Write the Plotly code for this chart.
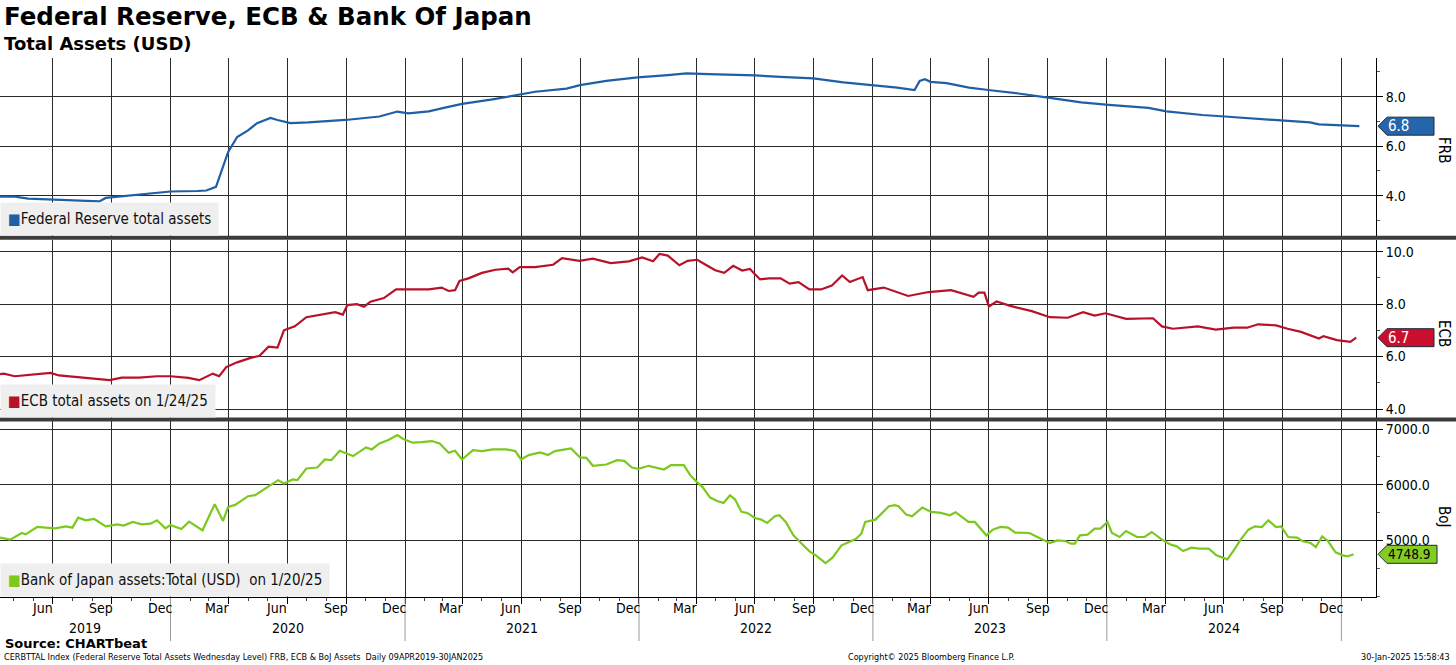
import plotly.graph_objects as go
import pandas as pd

# ---------------- data ----------------
frb_dates = ["2019-04-10","2019-05-03","2019-05-24","2019-07-03","2019-08-29","2019-09-12","2019-09-22",
             "2019-10-24","2019-11-06","2020-01-01","2020-02-12","2020-02-26","2020-03-12","2020-03-21",
             "2020-03-31","2020-04-14","2020-05-01","2020-05-15","2020-06-05","2020-06-16","2020-07-06",
             "2020-08-03","2020-09-30","2020-11-22","2020-12-20","2021-01-06","2021-02-07","2021-03-06",
             "2021-03-31","2021-05-15","2021-06-30","2021-07-23","2021-09-10","2021-10-01","2021-11-11",
             "2021-12-30","2022-02-15","2022-03-16","2022-04-20","2022-07-01","2022-08-10","2022-09-30",
             "2022-11-16","2023-01-04","2023-02-08","2023-03-07","2023-03-15","2023-03-23","2023-04-01",
             "2023-04-26","2023-05-31","2023-06-30","2023-08-16","2023-10-04","2023-11-22","2024-01-04",
             "2024-03-06","2024-04-03","2024-05-29","2024-07-03","2024-08-28","2024-09-30","2024-11-13",
             "2024-11-27","2025-01-01","2025-01-29"]
frb_vals = [3.96,3.96,3.88,3.84,3.77,3.77,3.91,
            3.99,4.05,4.17,4.19,4.21,4.36,5.03,
            5.77,6.37,6.64,6.93,7.14,7.06,6.93,
            6.96,7.06,7.20,7.40,7.33,7.41,7.57,
            7.71,7.88,8.08,8.20,8.33,8.47,8.64,
            8.78,8.87,8.94,8.91,8.86,8.80,8.74,
            8.58,8.47,8.37,8.27,8.64,8.71,8.60,
            8.55,8.37,8.27,8.13,7.95,7.77,7.67,
            7.55,7.41,7.26,7.20,7.10,7.04,6.96,
            6.88,6.84,6.81]

ecb_dates = ["2019-04-10","2019-04-16","2019-05-03","2019-05-24","2019-06-07","2019-06-28","2019-07-11",
             "2019-08-01","2019-08-29","2019-09-28","2019-10-17","2019-11-13","2019-12-11","2020-01-01",
             "2020-01-29","2020-02-15","2020-03-07","2020-03-17","2020-03-28","2020-04-14","2020-05-05",
             "2020-05-19","2020-06-02","2020-06-16","2020-06-26","2020-07-13","2020-07-31","2020-08-24",
             "2020-09-14","2020-09-26","2020-10-03","2020-10-18","2020-10-29","2020-11-08","2020-11-29",
             "2020-12-18","2021-01-10","2021-02-07","2021-02-27","2021-03-10","2021-03-20","2021-03-27",
             "2021-04-10","2021-05-01","2021-05-22","2021-06-11","2021-06-18","2021-06-29","2021-07-23",
             "2021-08-20","2021-09-03","2021-09-30","2021-10-21","2021-11-18","2021-12-16","2022-01-06",
             "2022-01-23","2022-02-02","2022-02-15","2022-03-05","2022-03-18","2022-04-02","2022-04-13",
             "2022-04-30","2022-05-14","2022-05-28","2022-06-11","2022-06-23","2022-07-09","2022-07-23",
             "2022-08-10","2022-08-24","2022-09-07","2022-09-24","2022-10-12","2022-10-29","2022-11-14",
             "2022-11-26","2022-12-16","2022-12-24","2023-01-18","2023-02-25","2023-03-29","2023-05-03",
             "2023-06-07","2023-06-15","2023-06-24","2023-07-01","2023-07-13","2023-08-02","2023-09-06",
             "2023-10-04","2023-11-01","2023-11-25","2023-12-13","2023-12-30","2024-01-31","2024-03-13",
             "2024-03-27","2024-04-13","2024-05-22","2024-06-19","2024-07-17","2024-08-07","2024-08-24",
             "2024-09-21","2024-10-09","2024-10-30","2024-11-27","2024-12-04","2024-12-25","2025-01-15",
             "2025-01-24"]
ecb_vals = [5.33,5.35,5.25,5.30,5.35,5.38,5.28,
            5.23,5.16,5.10,5.20,5.20,5.25,5.25,
            5.19,5.10,5.35,5.25,5.60,5.78,5.95,
            6.03,6.38,6.34,7.00,7.15,7.50,7.60,
            7.69,7.60,7.96,8.00,7.90,8.09,8.23,
            8.56,8.56,8.56,8.63,8.50,8.53,8.88,
            8.98,9.19,9.31,9.35,9.21,9.41,9.41,
            9.50,9.75,9.65,9.73,9.56,9.63,9.78,
            9.63,9.91,9.85,9.48,9.65,9.69,9.53,
            9.29,9.19,9.46,9.28,9.34,8.94,8.98,
            8.98,8.78,8.84,8.56,8.56,8.71,9.09,
            8.84,9.03,8.53,8.63,8.31,8.46,8.53,
            8.28,8.44,8.44,7.91,8.10,7.94,7.73,
            7.50,7.48,7.69,7.56,7.65,7.44,7.46,
            7.15,7.06,7.15,7.03,7.10,7.10,7.23,
            7.19,7.06,6.94,6.69,6.78,6.63,6.56,
            6.72]

boj_dates = ["2019-04-10","2019-04-26","2019-05-14","2019-05-20","2019-06-07","2019-07-05","2019-07-22",
             "2019-08-01","2019-08-10","2019-08-22","2019-09-04","2019-09-22","2019-10-10","2019-10-20",
             "2019-11-03","2019-11-17","2019-12-01","2019-12-11","2019-12-24","2020-01-01","2020-01-18",
             "2020-01-30","2020-02-20","2020-03-10","2020-03-23","2020-03-31","2020-04-11","2020-05-01",
             "2020-05-12","2020-06-02","2020-06-17","2020-06-26","2020-07-10","2020-07-17","2020-07-31",
             "2020-08-17","2020-08-29","2020-09-08","2020-09-21","2020-10-12","2020-11-01","2020-11-10",
             "2020-11-22","2020-12-06","2020-12-20","2020-12-30","2021-01-13","2021-01-27","2021-02-12",
             "2021-02-24","2021-03-10","2021-03-20","2021-03-31","2021-04-17","2021-05-01","2021-05-18",
             "2021-06-08","2021-06-22","2021-07-01","2021-07-13","2021-07-31","2021-08-12","2021-08-23",
             "2021-09-17","2021-10-01","2021-10-11","2021-10-21","2021-11-11","2021-11-28","2021-12-09",
             "2021-12-21","2021-12-31","2022-01-16","2022-02-09","2022-02-20","2022-03-12","2022-03-22",
             "2022-04-01","2022-04-10","2022-04-22","2022-05-04","2022-05-13","2022-05-23","2022-05-31",
             "2022-06-10","2022-06-19","2022-07-01","2022-07-11","2022-07-20","2022-08-01","2022-08-08",
             "2022-08-18","2022-08-30","2022-09-12","2022-09-24","2022-10-04","2022-10-19","2022-10-30",
             "2022-11-13","2022-11-25","2022-12-06","2022-12-14","2022-12-20","2023-01-05","2023-01-26",
             "2023-02-04","2023-02-10","2023-02-22","2023-03-03","2023-03-19","2023-04-02","2023-04-17",
             "2023-05-01","2023-05-10","2023-05-30","2023-06-09","2023-06-27","2023-07-07","2023-07-19",
             "2023-07-31","2023-08-11","2023-09-02","2023-09-19","2023-10-04","2023-10-16","2023-10-28",
             "2023-11-06","2023-11-12","2023-11-20","2023-12-02","2023-12-13","2023-12-22","2024-01-02",
             "2024-01-09","2024-01-21","2024-01-31","2024-02-17","2024-02-29","2024-03-11","2024-03-27",
             "2024-04-10","2024-04-19","2024-04-29","2024-05-12","2024-05-24","2024-06-08","2024-06-20",
             "2024-07-07","2024-07-17","2024-07-29","2024-08-09","2024-08-19","2024-08-30","2024-09-09",
             "2024-09-21","2024-09-29","2024-10-10","2024-10-24","2024-11-02","2024-11-14","2024-11-22",
             "2024-12-02","2024-12-11","2024-12-23","2025-01-03","2025-01-11","2025-01-20"]
boj_vals = [5048,5012,5132,5108,5240,5216,5252,
            5228,5408,5360,5384,5252,5288,5264,
            5330,5288,5300,5360,5216,5276,5204,
            5336,5180,5649,5348,5601,5637,5793,
            5811,5961,6081,6021,6093,6081,6291,
            6309,6453,6441,6610,6514,6670,6634,
            6742,6802,6892,6814,6754,6766,6784,
            6742,6574,6610,6453,6622,6604,6634,
            6634,6604,6453,6532,6580,6532,6604,
            6652,6489,6483,6339,6363,6441,6429,
            6309,6285,6339,6273,6351,6351,6171,
            6051,5961,5769,5703,5673,5811,5733,
            5511,5492,5402,5372,5312,5432,5450,
            5330,5090,4940,4802,4730,4592,4688,
            4910,4970,5030,5120,5330,5372,5613,
            5631,5613,5462,5432,5589,5511,5492,
            5450,5505,5330,5330,5090,5192,5240,
            5228,5138,5132,5030,4952,5000,4988,
            4940,4940,5090,5102,5210,5210,5330,
            5132,5060,5168,5060,5060,5150,5012,
            4922,4892,4808,4868,4850,4850,4730,
            4658,4820,5030,5192,5252,5240,5360,
            5240,5252,5060,5048,4982,4952,4880,
            5072,4988,4784,4730,4712,4748.9]

month_names = ["Mar", "Jun", "Sep", "Dec"]
year_labels = [2019, 2020, 2021, 2022, 2023, 2024]

# ---------------- styling / geometry ----------------
W, H = 1456, 665
ML, MR, MT, MB = 0, 80, 58, 68
PW = W - ML - MR
PH = H - MT - MB
BOTTOM_PX = H - MB

def py(p):  # pixel row -> paper y
    return (BOTTOM_PX - p) / PH

def px(p):  # pixel column -> paper x
    return (p - ML) / PW

X_RANGE = ["2019-04-10", "2025-02-24"]
FRB_RANGE = [2.372, 9.564]
ECB_RANGE = [3.659, 10.462]
BOJ_RANGE = [3982, 7144]
DOM_TOP = [py(236), 1.0]
DOM_MID = [py(418), py(239.5)]
DOM_BOT = [0.0, py(421)]

BLUE = "#1f5fa6"
RED = "#b8112a"
GREEN = "#7cc91e"
FONT = "DejaVu Sans Condensed, DejaVu Sans, sans-serif"
GRID = "#2a2a2a"

fig = go.Figure()
fig.add_trace(go.Scatter(x=frb_dates, y=frb_vals, mode="lines", line=dict(color=BLUE, width=2.2),
                         xaxis="x", yaxis="y", showlegend=False, hoverinfo="x+y"))
fig.add_trace(go.Scatter(x=ecb_dates, y=ecb_vals, mode="lines", line=dict(color=RED, width=2.2),
                         xaxis="x", yaxis="y2", showlegend=False, hoverinfo="x+y"))
fig.add_trace(go.Scatter(x=boj_dates, y=boj_vals, mode="lines", line=dict(color=GREEN, width=2.2),
                         xaxis="x", yaxis="y3", showlegend=False, hoverinfo="x+y"))

quarter_starts = [d.strftime("%Y-%m-%d") for d in pd.date_range("2019-07-01", "2025-01-01", freq="QS")]

def yax(rng, dom, tickvals, minor_dtick):
    return dict(range=rng, domain=dom, side="right", anchor="x", showline=True, linecolor="#000",
                linewidth=1, ticks="outside", ticklen=6, tickcolor="#000",
                tickmode="array", tickvals=tickvals, tickformat=".1f",
                showgrid=True, gridcolor=GRID, gridwidth=1, zeroline=False, automargin=False,
                tickfont=dict(family=FONT, size=14, color="#000"),
                minor=dict(dtick=minor_dtick, ticks="outside", ticklen=3, tickcolor="#555", showgrid=False))

fig.update_layout(
    width=W, height=H, margin=dict(l=ML, r=MR, t=MT, b=MB, autoexpand=False),
    paper_bgcolor="white", plot_bgcolor="white",
    font=dict(family=FONT, size=14, color="#000"),
    xaxis=dict(range=X_RANGE, anchor="y3", showline=True, linecolor="#000", linewidth=1,
               tickmode="array", tickvals=quarter_starts, showticklabels=False,
               ticks="outside", ticklen=6, tickcolor="#000", automargin=False,
               showgrid=True, gridcolor=GRID, gridwidth=1, zeroline=False,
               minor=dict(dtick="M1", tick0="2019-01-01", ticks="outside", ticklen=3,
                          tickcolor="#444", showgrid=False)),
    yaxis=yax(FRB_RANGE, DOM_TOP, [4, 6, 8], 1),
    yaxis2=yax(ECB_RANGE, DOM_MID, [4, 6, 8, 10], 1),
    yaxis3=yax(BOJ_RANGE, DOM_BOT, [5000, 6000, 7000], 500),
)

shapes = []
annotations = []

# panel separators
for sep in (237.7, 419.6):
    shapes.append(dict(type="line", xref="paper", yref="paper", x0=0, x1=px(W), y0=py(sep), y1=py(sep),
                       line=dict(color="#3c3c3c", width=4), layer="above"))

# month labels
start = pd.Timestamp(X_RANGE[0])
end = pd.Timestamp(X_RANGE[1])
for y in range(2019, 2025):
    for i, m in enumerate([3, 6, 9, 12]):
        d = pd.Timestamp(year=y, month=m, day=15)
        if start < d < end:
            annotations.append(dict(x=d.strftime("%Y-%m-%d"), xref="x", y=py(608), yref="paper",
                                    text=month_names[i], showarrow=False, xanchor="center", yanchor="middle",
                                    font=dict(family=FONT, size=14, color="#000")))
# year labels & year separator ticks
for yr in year_labels:
    y0 = max(pd.Timestamp(year=yr, month=1, day=1), start)
    y1 = min(pd.Timestamp(year=yr + 1, month=1, day=1), end)
    mid = y0 + (y1 - y0) / 2
    annotations.append(dict(x=mid.strftime("%Y-%m-%d"), xref="x", y=py(628), yref="paper",
                            text=str(yr), showarrow=False, xanchor="center", yanchor="middle",
                            font=dict(family=FONT, size=14, color="#000")))
for yr in range(2020, 2026):
    d = f"{yr}-01-01"
    shapes.append(dict(type="line", xref="x", yref="paper", x0=d, x1=d, y0=py(598), y1=py(641),
                       line=dict(color="#9a9a9a", width=1)))

# legend boxes
def legend_box(text, color, bottom_px):
    annotations.append(dict(x=0, xref="paper", y=py(bottom_px), yref="paper", xanchor="left", yanchor="bottom",
                            text=f"<span style='color:{color}'>■</span>{text}", showarrow=False,
                            bgcolor="#efefef", borderpad=7, align="left",
                            font=dict(family=FONT, size=15, color="#111")))

legend_box("Federal Reserve total assets", BLUE, 236)
legend_box("ECB total assets on 1/24/25", RED, 418)
legend_box("Bank of Japan assets:Total (USD)  on 1/20/25", GREEN, 597)

# last-value tags
def tag(yref, value, rng, dom, fill, label, txtcolor, right_px, fsize):
    ppu = (dom[1] - dom[0]) * PH / (rng[1] - rng[0])
    hh = 9.0 / ppu
    xt, xb, xr = px(1378), px(1387), px(right_px)
    path = (f"M {xt},{value} L {xb},{value + hh} L {xr},{value + hh} "
            f"L {xr},{value - hh} L {xb},{value - hh} Z")
    shapes.append(dict(type="path", xref="paper", yref=yref, path=path, fillcolor=fill,
                       line=dict(color="#1b2a3a", width=1), layer="above"))
    annotations.append(dict(x=px(1386), xref="paper", y=value, yref=yref, xanchor="left", yanchor="middle",
                            text=label, showarrow=False, font=dict(family=FONT, size=fsize, color=txtcolor)))

tag("y", frb_vals[-1], FRB_RANGE, DOM_TOP, "#2566ab", f"{frb_vals[-1]:.1f}", "white", 1434, 15)
tag("y2", ecb_vals[-1], ECB_RANGE, DOM_MID, "#c8102e", f"{ecb_vals[-1]:.1f}", "white", 1434, 15)
tag("y3", boj_vals[-1], BOJ_RANGE, DOM_BOT, "#84cc22", f"{boj_vals[-1]:.1f}", "#000", 1437, 13.5)

# right-side axis names
for name, cy in (("FRB", 150), ("ECB", 333), ("BoJ", 517)):
    annotations.append(dict(x=px(1444), xref="paper", y=py(cy), yref="paper", text=name, textangle=90,
                            showarrow=False, xanchor="center", yanchor="middle",
                            font=dict(family=FONT, size=15, color="#000")))

# titles
annotations.append(dict(x=px(2), xref="paper", y=py(17), yref="paper", xanchor="left", yanchor="middle",
                        text="<b>Federal Reserve, ECB &amp; Bank Of Japan</b>", showarrow=False,
                        font=dict(family="DejaVu Sans, sans-serif", size=24.5, color="#000")))
annotations.append(dict(x=px(2), xref="paper", y=py(43), yref="paper", xanchor="left", yanchor="middle",
                        text="<b>Total Assets (USD)</b>", showarrow=False,
                        font=dict(family="DejaVu Sans, sans-serif", size=18, color="#000")))

# footer
annotations.append(dict(x=px(3), xref="paper", y=py(643), yref="paper", xanchor="left", yanchor="middle",
                        text="<b>Source: CHARTbeat</b>", showarrow=False,
                        font=dict(family="DejaVu Sans, sans-serif", size=13, color="#000")))
annotations.append(dict(x=px(2), xref="paper", y=py(657), yref="paper", xanchor="left", yanchor="middle",
                        text="CERBTTAL Index (Federal Reserve Total Assets Wednesday Level) FRB, ECB &amp; BoJ Assets  Daily 09APR2019-30JAN2025",
                        showarrow=False, font=dict(family=FONT, size=9, color="#000")))
annotations.append(dict(x=px(846), xref="paper", y=py(657), yref="paper", xanchor="left", yanchor="middle",
                        text="Copyright© 2025 Bloomberg Finance L.P.", showarrow=False,
                        font=dict(family=FONT, size=9, color="#000")))
annotations.append(dict(x=px(1452), xref="paper", y=py(657), yref="paper", xanchor="right", yanchor="middle",
                        text="30-Jan-2025 15:58:43", showarrow=False,
                        font=dict(family=FONT, size=9, color="#000")))

fig.update_layout(shapes=shapes, annotations=annotations)
fig.write_html("out.html", config={"displayModeBar": False},
               post_script="document.body.style.margin='0';document.body.style.overflow='hidden';")
